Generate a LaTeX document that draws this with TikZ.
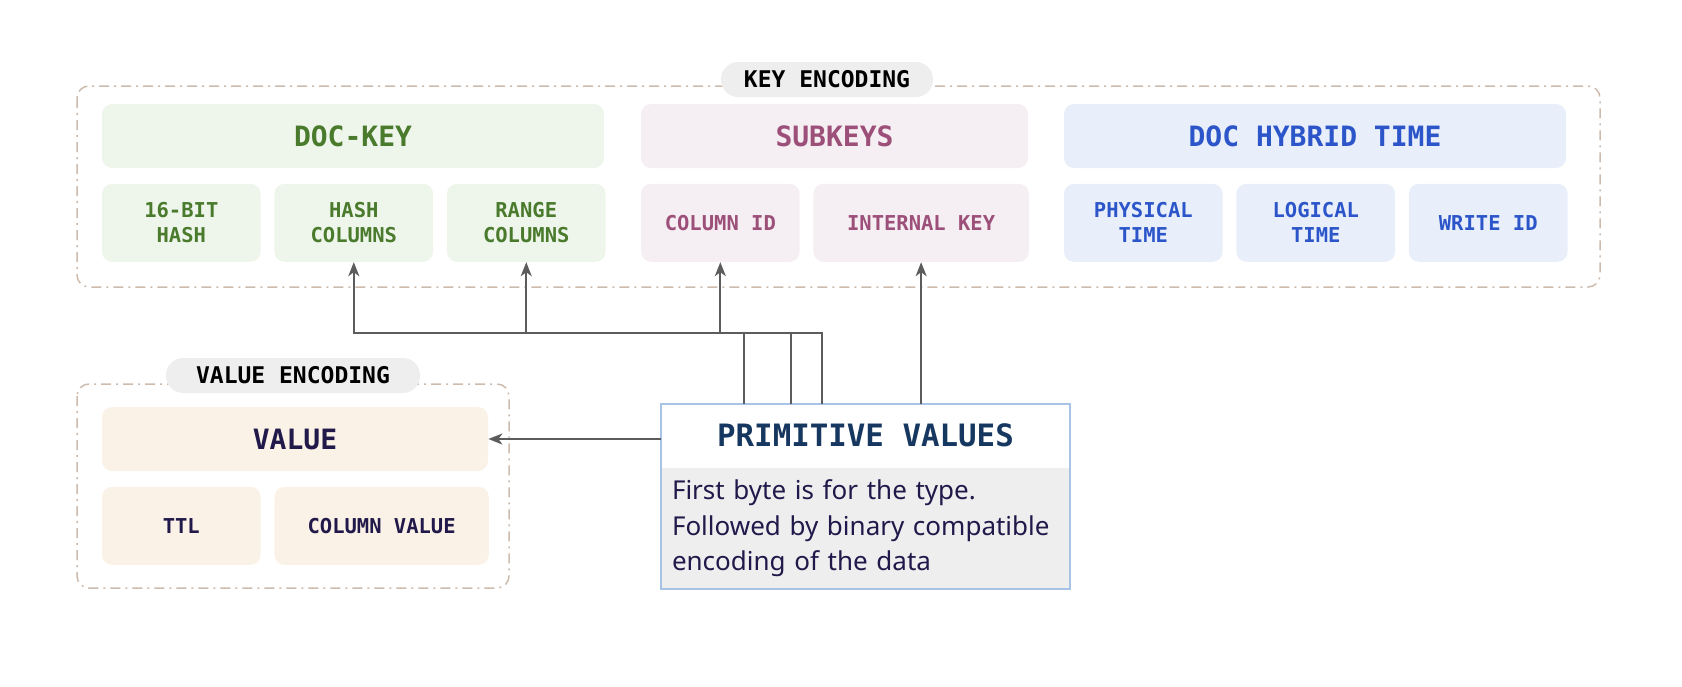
\documentclass[tikz,border=0pt]{standalone}
\usepackage{fontspec}
\setmainfont{Noto Sans}
\setmonofont{DejaVu Sans Mono}
\usepackage{xcolor}
\usetikzlibrary{positioning,arrows.meta,calc}
\definecolor{keygreen}{RGB}{74,122,44}
\definecolor{keygreenbg}{RGB}{238,246,236}
\definecolor{subpink}{RGB}{156,79,120}
\definecolor{subpinkbg}{RGB}{245,238,242}
\definecolor{timeblue}{RGB}{43,85,201}
\definecolor{timebluebg}{RGB}{232,238,250}
\definecolor{valnavy}{RGB}{32,25,74}
\definecolor{valbg}{RGB}{251,242,231}
\definecolor{primnavy}{RGB}{22,55,95}
\definecolor{primborder}{RGB}{167,196,230}
\definecolor{pillgray}{RGB}{238,238,238}
\definecolor{framebrown}{RGB}{205,188,173}
\definecolor{conngray}{RGB}{92,92,92}

\tikzset{
  hdr/.style={rectangle, rounded corners=5pt, minimum height=32pt, inner sep=0pt, font=\ttfamily\bfseries\fontsize{14}{16}\selectfont},
  subbox/.style={rectangle, rounded corners=5pt, minimum width=79.33pt, minimum height=39pt, inner sep=0pt, align=center, font=\ttfamily\bfseries\fontsize{10.25}{12.5}\selectfont},
  pill/.style={rectangle, rounded corners=8.5pt, fill=pillgray, minimum height=17.5pt, inner sep=0pt, font=\ttfamily\bfseries\fontsize{11.5}{13}\selectfont},
  encframe/.style={draw=framebrown, line width=0.75pt, dash pattern=on 5pt off 2.5pt on 1pt off 2.5pt, rounded corners=6pt},
  conn/.style={draw=conngray, line width=1pt, -{Stealth[length=7pt,width=5.5pt,inset=2pt]}}
}

\begin{document}
\begin{tikzpicture}[x=0.5pt, y=0.5pt]
  \useasboundingbox (0,0) rectangle (1682,-686);

  % encoding frames
  \draw[encframe] (77,-86) rectangle (1600,-287);
  \draw[encframe] (77,-384) rectangle (509,-588);
  \node[pill, minimum width=106pt] (keyenc) at (827,-79.5) {KEY ENCODING};
  \node[pill, minimum width=127pt] (valenc) at (293,-375.5) {VALUE ENCODING};

  % key encoding
  \node[hdr, fill=keygreenbg, text=keygreen, minimum width=251pt] (dockey) at (353,-136) {DOC-KEY};
  \node[subbox, fill=keygreenbg, text=keygreen, below right=7.5pt and 0pt of dockey.south west] (hash16) {16-BIT\\HASH};
  \node[subbox, fill=keygreenbg, text=keygreen, right=6.5pt of hash16] (hashcol) {HASH\\COLUMNS};
  \node[subbox, fill=keygreenbg, text=keygreen, right=6.5pt of hashcol] (rangecol) {RANGE\\COLUMNS};

  \node[hdr, fill=subpinkbg, text=subpink, minimum width=193.5pt] (subkeys) at (834.5,-136) {SUBKEYS};
  \node[subbox, fill=subpinkbg, text=subpink, below right=7.5pt and 0pt of subkeys.south west] (colid) {COLUMN ID};
  \node[subbox, fill=subpinkbg, text=subpink, minimum width=107.67pt, right=6.5pt of colid] (intkey) {INTERNAL KEY};

  \node[hdr, fill=timebluebg, text=timeblue, minimum width=251pt] (hybrid) at (1315,-136) {DOC HYBRID TIME};
  \node[subbox, fill=timebluebg, text=timeblue, below right=7.5pt and 0pt of hybrid.south west] (phys) {PHYSICAL\\TIME};
  \node[subbox, fill=timebluebg, text=timeblue, right=6.5pt of phys] (logic) {LOGICAL\\TIME};
  \node[subbox, fill=timebluebg, text=timeblue, right=6.5pt of logic] (writeid) {WRITE ID};

  % value encoding
  \node[hdr, fill=valbg, text=valnavy, minimum width=193pt] (value) at (295,-439) {VALUE};
  \node[subbox, fill=valbg, text=valnavy, below right=7.5pt and 0pt of value.south west] (ttl) {TTL};
  \node[subbox, fill=valbg, text=valnavy, minimum width=107.17pt, right=6.5pt of ttl] (colval) {COLUMN VALUE};

  % primitive values
  \node[rectangle, fill=white, text=primnavy, minimum width=204.5pt, minimum height=31.5pt, inner sep=0pt, font=\ttfamily\bfseries\fontsize{15.4}{17}\selectfont] (prim) at (865.5,-435.5) {PRIMITIVE VALUES};
  \node[rectangle, fill=pillgray, text=valnavy, below=0pt of prim, text width=193.5pt, inner xsep=5.5pt, inner ysep=0pt, minimum height=60.5pt, align=left, font=\fontsize{13}{17.7}\selectfont] (primtext) {First byte is for the type.\\Followed by binary compatible\\encoding of the data};
  \draw[primborder, line width=1pt] (prim.north west) rectangle (primtext.south east);

  % connectors
  \coordinate (bus) at (0,-333);
  \coordinate (p1) at ([xshift=41.5pt]prim.north west);
  \coordinate (p2) at ([xshift=65pt]prim.north west);
  \coordinate (p3) at ([xshift=80.5pt]prim.north west);
  \draw[conn] (p1) -- (p1 |- bus) -| (hashcol.south);
  \draw[conn] (p2) -- (p2 |- bus) -| (rangecol.south);
  \draw[conn] (p3) -- (p3 |- bus) -| (colid.south);
  \draw[conn] (prim.north -| intkey.south) -- (intkey.south);
  \draw[conn] (prim.west |- value.east) -- (value.east);
\end{tikzpicture}
\end{document}
